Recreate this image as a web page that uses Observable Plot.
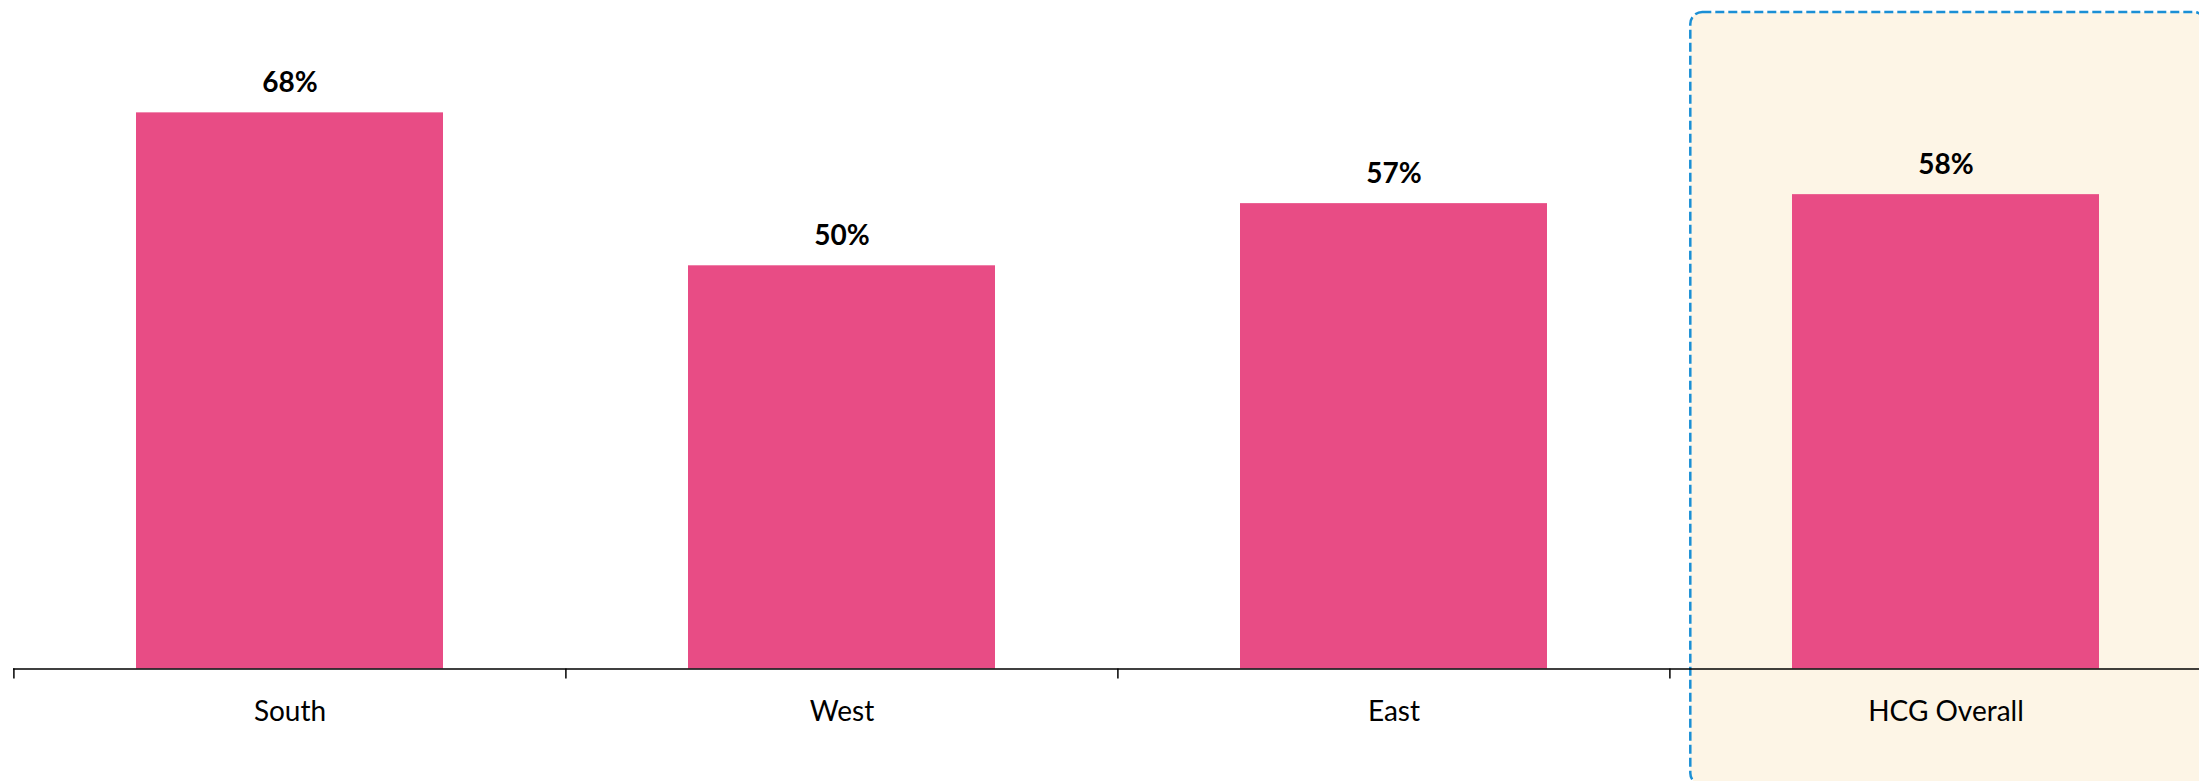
<!DOCTYPE html>
<html><head><meta charset="utf-8">
<script src="https://cdn.jsdelivr.net/npm/d3@7"></script>
<script src="https://cdn.jsdelivr.net/npm/@observablehq/plot@0.6"></script>
<style>html,body{margin:0;padding:0;background:#fff;overflow:hidden}</style>
</head><body><div id="chart"></div>
<script>
const categories = ["South", "West", "East", "HCG Overall"];
const values = [0.68, 0.493, 0.569, 0.58];
const valueLabels = ["68%", "50%", "57%", "58%"];
const highlighted = ["HCG Overall"];

const data = categories.map((c, i) => ({category: c, value: values[i], label: valueLabels[i]}));

const chart = Plot.plot({
  width: 2199,
  height: 781,
  marginTop: 96,
  marginBottom: 112.5,
  marginLeft: 13,
  marginRight: 0,
  style: {fontFamily: "Lato, sans-serif", background: "transparent", overflow: "visible", color: "#000"},
  x: {domain: categories, range: [13, 2222], paddingInner: 0.444, paddingOuter: 0.222, label: null},
  y: {domain: [0, 0.7], axis: null, label: null},
  marks: [
    Plot.cell(highlighted, {x: d => d, fill: "#FDF5E6", stroke: "#1A8FD5", strokeWidth: 2.5, strokeDasharray: "9,4", rx: 12,
      insetLeft: -101.7, insetRight: -106.6, insetTop: -84, insetBottom: -116.5}),
    Plot.barY(data, {x: "category", y: "value", fill: "#E84C85"}),
    Plot.ruleY([0], {stroke: "#000", strokeWidth: 1.5}),
    Plot.axisX({tickSize: 10, dx: -276.1, tickFormat: () => "", stroke: "#000", strokeWidth: 1.5}),
    Plot.axisX({tickSize: 0, tickPadding: 32, fontSize: 28, fill: "#000"}),
    Plot.text(data, {x: "category", y: "value", text: "label", dy: -30, fontSize: 28, fontWeight: "bold", fill: "#000", lineAnchor: "middle"})
  ]
});
document.getElementById("chart").appendChild(chart);
</script>
</body></html>
